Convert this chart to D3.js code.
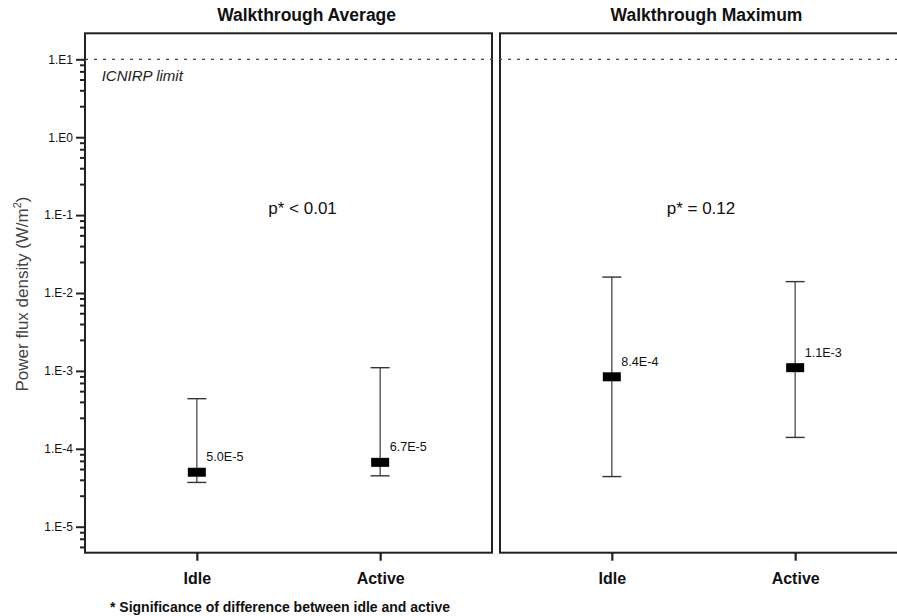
<!DOCTYPE html>
<html>
<head>
<meta charset="utf-8">
<script src="https://cdn.jsdelivr.net/npm/d3@7"></script>
<style>
  html, body { margin: 0; padding: 0; background: #fff; }
  svg { display: block; font-family: "Liberation Sans", Arial, Helvetica, sans-serif; }
</style>
</head>
<body>
<svg id="chart" width="897" height="616"></svg>
<script>
// ---- data ----
const panels = ["Walkthrough Average", "Walkthrough Maximum"];
const categories = ["Idle", "Active"];
const medianAvg = [5.0e-5, 6.7e-5];
const lowAvg    = [3.7e-5, 4.5e-5];
const highAvg   = [4.4e-4, 1.1e-3];
const medianMax = [8.4e-4, 1.1e-3];
const lowMax    = [4.4e-5, 1.4e-4];
const highMax   = [1.6e-2, 1.4e-2];
const labelsAvg = ["5.0E-5", "6.7E-5"];
const labelsMax = ["8.4E-4", "1.1E-3"];
const pTexts = ["p* < 0.01", "p* = 0.12"];
const majorExponents = [1, 0, -1, -2, -3, -4, -5];
const minorMultipliers = [2.5, 4, 5.5, 7, 8.5];
const limitValue = 10;
const limitLabel = "ICNIRP limit";
const yTitle = "Power flux density (W/m";
const footnote = "* Significance of difference between idle and active";

// ---- layout ----
const W = 897, H = 616;
const plotTop = 33.3, plotBottom = 552.7;
const panelLeft = [85, 500];
const panelWidth = 407;
const titleX = [306.6, 706.5];
const pX = [268.3, 666.7];

const svg = d3.select("#chart");

// y scale (log): 1E1 at 59.3, 1E-5 at 526.7
const y = d3.scaleLog().domain([1e-5, 1e1]).range([526.7, 59.3]);

const seriesByPanel = [
  { med: medianAvg, lo: lowAvg, hi: highAvg, lab: labelsAvg },
  { med: medianMax, lo: lowMax, hi: highMax, lab: labelsMax }
];

const ink = "#222";

panels.forEach((title, pi) => {
  const x0 = panelLeft[pi];
  const x = d3.scalePoint().domain(categories).range([x0, x0 + panelWidth]).padding(0.61);
  const g = svg.append("g");

  // frame
  g.append("rect")
    .attr("x", x0).attr("y", plotTop)
    .attr("width", panelWidth).attr("height", plotBottom - plotTop)
    .attr("fill", "none").attr("stroke", ink).attr("stroke-width", 2);

  // title
  svg.append("text")
    .attr("x", titleX[pi]).attr("y", 21)
    .attr("text-anchor", "middle")
    .attr("font-size", 17.5).attr("font-weight", "bold").attr("fill", "#111")
    .text(title);

  // x axis
  const xAxis = g.append("g")
    .attr("transform", `translate(0,${plotBottom})`)
    .call(d3.axisBottom(x).tickSize(8).tickPadding(12));
  xAxis.select(".domain").remove();
  xAxis.selectAll(".tick line").attr("stroke", ink).attr("stroke-width", 2.2);
  xAxis.selectAll(".tick text")
    .attr("font-size", 16).attr("font-weight", "bold").attr("fill", "#111")
    .attr("font-family", "'Liberation Sans', Arial, sans-serif");

  // p-value text
  svg.append("text")
    .attr("x", pX[pi]).attr("y", 214)
    .attr("font-size", 17).attr("fill", "#111")
    .text(pTexts[pi]);

  // error bars
  const s = seriesByPanel[pi];
  const capW = 19, boxW = 18, boxH = 9;
  categories.forEach((c, i) => {
    const cx = x(c);
    g.append("line")
      .attr("x1", cx).attr("x2", cx)
      .attr("y1", y(s.hi[i])).attr("y2", y(s.lo[i]))
      .attr("stroke", "#555").attr("stroke-width", 1.4);
    [s.hi[i], s.lo[i]].forEach(v => {
      g.append("line")
        .attr("x1", cx - capW / 2).attr("x2", cx + capW / 2)
        .attr("y1", y(v)).attr("y2", y(v))
        .attr("stroke", "#333").attr("stroke-width", 1.4);
    });
    g.append("rect")
      .attr("x", cx - boxW / 2).attr("y", y(s.med[i]) - boxH / 2)
      .attr("width", boxW).attr("height", boxH)
      .attr("fill", "#000");
    g.append("text")
      .attr("x", cx + 9.5).attr("y", y(s.med[i]) - 11)
      .attr("font-size", 12.6).attr("fill", "#111")
      .text(s.lab[i]);
  });
});

// limit line across both panels
svg.append("line")
  .attr("x1", panelLeft[0]).attr("x2", W)
  .attr("y1", y(limitValue)).attr("y2", y(limitValue))
  .attr("stroke", "#444").attr("stroke-width", 1.2)
  .attr("stroke-dasharray", "3,6");

svg.append("text")
  .attr("x", 101.7).attr("y", 81)
  .attr("font-size", 15).attr("font-style", "italic").attr("fill", "#222")
  .text(limitLabel);

// y axis (major)
const majors = majorExponents.map(e => Math.pow(10, e));
const yAxis = svg.append("g")
  .attr("transform", `translate(${panelLeft[0]},0)`)
  .call(d3.axisLeft(y).tickValues(majors).tickSize(9).tickPadding(3)
    .tickFormat(v => "1.E" + Math.round(Math.log10(v))));
yAxis.select(".domain").remove();
yAxis.selectAll(".tick line").attr("stroke", ink).attr("stroke-width", 2);
yAxis.selectAll(".tick text").attr("font-size", 12).attr("fill", "#111")
  .attr("font-family", "'Liberation Sans', Arial, sans-serif");

// y axis (minor)
const yLo = y.invert(plotBottom), yHi = y.invert(plotTop);
const minors = [];
for (let e = -6; e <= 1; e++) {
  minorMultipliers.forEach(m => {
    const v = m * Math.pow(10, e);
    if (v > yLo && v < yHi) minors.push(v);
  });
}
const yMinor = svg.append("g")
  .attr("transform", `translate(${panelLeft[0]},0)`)
  .call(d3.axisLeft(y).tickValues(minors).tickSize(5).tickFormat(""));
yMinor.select(".domain").remove();
yMinor.selectAll(".tick line").attr("stroke", ink).attr("stroke-width", 2);

// y title
const yt = svg.append("text")
  .attr("transform", `translate(28,294) rotate(-90)`)
  .attr("text-anchor", "middle")
  .attr("font-size", 17).attr("fill", "#444");
yt.append("tspan").text(yTitle);
yt.append("tspan").attr("font-size", 11).attr("dy", -7).text("2");
yt.append("tspan").attr("dy", 7).text(")");

// footnote
svg.append("text")
  .attr("x", 110).attr("y", 612)
  .attr("font-size", 14).attr("font-weight", "bold").attr("fill", "#111")
  .text(footnote);
</script>
</body>
</html>
